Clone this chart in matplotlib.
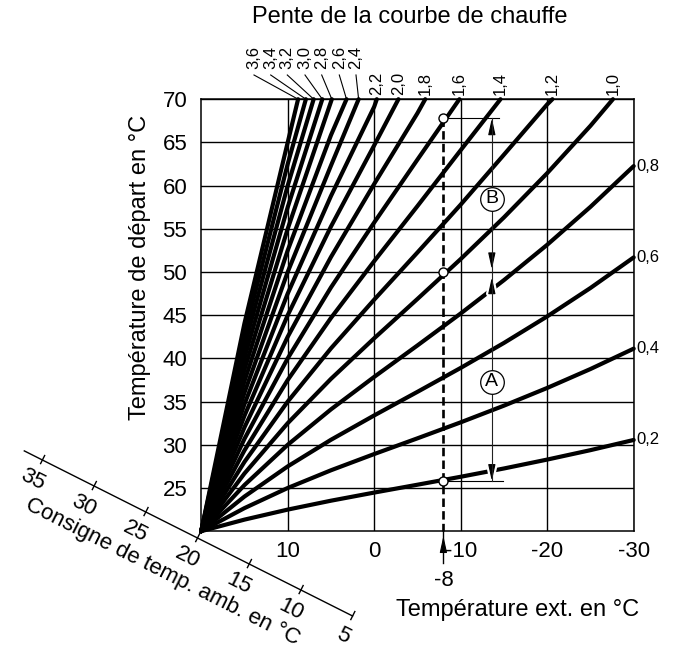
import matplotlib
matplotlib.use("Agg")
import matplotlib.pyplot as plt
from matplotlib import patheffects as pe
from matplotlib.lines import Line2D

plt.rcParams['font.family'] = ['Liberation Sans', 'DejaVu Sans']

# ---------------- data ----------------
t_out_full = [20, 15, 10, 5, 0, -5, -10, -15, -20, -25, -30]

flow_02 = [20, 21.34, 22.50, 23.53, 24.47, 25.38, 26.30, 27.26, 28.29, 29.38, 30.56]
flow_04 = [20, 22.67, 25.00, 27.05, 28.93, 30.75, 32.60, 34.53, 36.58, 38.77, 41.13]
flow_06 = [20, 24.01, 27.50, 30.58, 33.40, 36.13, 38.90, 41.79, 44.86, 48.15, 51.69]
flow_08 = [20, 25.34, 30.00, 34.10, 37.86, 41.50, 45.20, 49.06, 53.15, 57.54, 62.26]

out_10 = [20, 15, 10, 5, 0, -5, -10, -15, -20, -25, -27.6]
flow_10 = [20, 26.68, 32.50, 37.63, 42.33, 46.88, 51.50, 56.32, 61.44, 66.92, 70]
out_12 = [20, 15, 10, 5, 0, -5, -10, -15, -20, -20.6]
flow_12 = [20, 28.02, 35.00, 41.16, 46.80, 52.26, 57.80, 63.58, 69.40, 70]
out_14 = [20, 15, 10, 5, 0, -5, -10, -14.6]
flow_14 = [20, 29.35, 37.50, 44.68, 51.26, 57.63, 64.10, 70]
out_16 = [20, 15, 10, 5, 0, -5, -9.85]
flow_16 = [20, 30.69, 40.00, 48.21, 55.73, 63.01, 70]
out_18 = [20, 15, 10, 5, 0, -5, -5.9]
flow_18 = [20, 32.02, 42.50, 51.73, 60.19, 68.38, 70]
out_20 = [20, 15, 10, 5, 0, -2.8]
flow_20 = [20, 33.36, 45.00, 55.26, 64.66, 70]
out_22 = [20, 15, 10, 5, 0, -0.3]
flow_22 = [20, 34.70, 47.50, 58.79, 69.13, 70]
out_24 = [20, 15, 10, 5, 1.8]
flow_24 = [20, 36.03, 50.00, 62.31, 70]
out_26 = [20, 15, 10, 5, 3.2]
flow_26 = [20, 37.37, 52.50, 65.84, 70]
out_28 = [20, 15, 10, 4.9]
flow_28 = [20, 38.70, 55.00, 70]
out_30 = [20, 15, 10, 6.0]
flow_30 = [20, 40.04, 57.50, 70]
out_32 = [20, 15, 10, 7.0]
flow_32 = [20, 41.38, 60.00, 70]
out_34 = [20, 15, 10, 7.9]
flow_34 = [20, 42.71, 62.50, 70]
out_36 = [20, 15, 10, 8.8]
flow_36 = [20, 44.05, 65.00, 70]

right_labels = ["0,2", "0,4", "0,6", "0,8"]
top_labels = ["1,0", "1,2", "1,4", "1,6", "1,8", "2,0", "2,2"]
packed_labels = ["2,4", "2,6", "2,8", "3,0", "3,2", "3,4", "3,6"]

x_ticks = [10, 0, -10, -20, -30]
y_ticks = [25, 30, 35, 40, 45, 50, 55, 60, 65, 70]
room_ticks = [35, 30, 25, 20, 15, 10, 5]

example_out = -8
example_points = [67.8, 50.0, 25.8]   # flow temps marked on the -8 line

# ---------------- layout ----------------
W, H = 673, 654
fig = plt.figure(figsize=(W / 100, H / 100), dpi=100)
ax = fig.add_axes([201.2 / W, 1 - 531.2 / H, 432.5 / W, 432.0 / H])
ax.set_xlim(20, -30)
ax.set_ylim(20, 70)
ax.set_xticks(x_ticks)
ax.set_yticks(y_ticks)
ax.set_xticklabels([str(v) for v in x_ticks])
ax.set_yticklabels([str(v) for v in y_ticks])
ax.tick_params(length=0, labelsize=16, pad=7)
ax.tick_params(axis='y', pad=10)
ax.grid(True, color='black', lw=1.0, zorder=1)
ax.set_axisbelow(True)
for s in ax.spines.values():
    s.set_linewidth(1.1)
    s.set_zorder(2)


def fp(x, y):
    return (x / W, 1 - y / H)


def data_px(x, y):
    dx, dy = ax.transData.transform((x, y))
    return dx, H - dy


# curves
full = [flow_02, flow_04, flow_06, flow_08]
for fl in full:
    ax.plot(t_out_full, fl, color='black', lw=3.0, solid_capstyle='round',
            solid_joinstyle='round', clip_on=False, zorder=3)
steep = [(out_10, flow_10), (out_12, flow_12), (out_14, flow_14), (out_16, flow_16),
         (out_18, flow_18), (out_20, flow_20), (out_22, flow_22), (out_24, flow_24),
         (out_26, flow_26), (out_28, flow_28), (out_30, flow_30), (out_32, flow_32),
         (out_34, flow_34), (out_36, flow_36)]
for o, fl in steep:
    ax.plot(o, fl, color='black', lw=3.0, solid_capstyle='round',
            solid_joinstyle='round', clip_on=False, zorder=3)

# right labels
for lab, fl in zip(right_labels, full):
    ax.annotate(lab, xy=(t_out_full[-1], fl[-1]), xytext=(2, 0),
                textcoords='offset points', ha='left', va='center', fontsize=12,
                annotation_clip=False)

# top labels directly above the curve ends
for lab, (o, fl) in zip(top_labels, steep[:7]):
    ax.annotate(lab, xy=(o[-1], 70), xytext=(0, 3), textcoords='offset points',
                ha='center', va='bottom', rotation=90, fontsize=12,
                annotation_clip=False)

# packed labels with leader lines
packed_x = [356, 339.3, 321.7, 305, 287.3, 270.7, 254]
for lab, (o, fl), lx in zip(packed_labels, steep[7:], packed_x):
    ex, ey = data_px(o[-1], 70)
    fig.text(*fp(lx, 69), lab, rotation=90, ha='center', va='bottom', fontsize=12)
    fig.add_artist(Line2D([lx / W, ex / W], [1 - 75 / H, 1 - ey / H],
                          transform=fig.transFigure, color='black', lw=0.8))

# example at -8
ax.plot([example_out, example_out], [example_points[0], 20], color='black', lw=1.9,
        dashes=(3.2, 1.6), zorder=4, clip_on=False)
ax.plot([example_out] * 3, example_points, 'o', ms=6.5, mfc='white', mec='black',
        mew=1.0, zorder=6)

xa = -13.6
ax.plot([example_out, -14.4], [example_points[0]] * 2, color='black', lw=0.8, zorder=4)
ax.plot([example_out, -14.9], [example_points[2]] * 2, color='black', lw=0.8, zorder=4)
ax.plot([xa, xa], [example_points[0], example_points[2]], color='#222222', lw=0.8, zorder=4)


def head(tip, direction):
    ann = ax.annotate('', xy=(xa, tip), xytext=(xa, tip + direction * 1.6),
                      arrowprops=dict(arrowstyle='-|>,head_length=1.0,head_width=0.22',
                                      color='black', lw=0.8, shrinkA=0, shrinkB=0,
                                      mutation_scale=10))
    ann.arrow_patch.set_path_effects([pe.withStroke(linewidth=4, foreground='white')])
    ann.arrow_patch.set_zorder(5)


head(example_points[0], -1)
head(50.3, 1)
head(49.4, -1)
head(example_points[2], 1)

for letter, yv in (("B", 58.5), ("A", 37.3)):
    ax.plot([xa], [yv], 'o', ms=17, mfc='white', mec='black', mew=0.9, zorder=6)
    ax.text(xa, yv, letter, ha='center', va='center', fontsize=14, zorder=7)

# arrow below axis at -8
px8, _ = data_px(example_out, 20)
fig.add_artist(Line2D([px8 / W] * 2, [1 - 531 / H, 1 - 563 / H],
                      transform=fig.transFigure, color='black', lw=1.0))
fig.add_artist(plt.Annotation('', xy=fp(px8, 536), xytext=fp(px8, 552),
                              xycoords='figure fraction', textcoords='figure fraction',
                              arrowprops=dict(arrowstyle='-|>,head_length=1.0,head_width=0.22',
                                              color='black', lw=0.8, shrinkA=0, shrinkB=0,
                                              mutation_scale=10)))
fig.text(*fp(px8, 581), "-8", ha='center', va='center', fontsize=16)

# room temperature oblique axis
p20 = (197.5, 538.0)
step = (51.7, 26.0)
start = (p20[0] - 3.35 * step[0], p20[1] - 3.35 * step[1])
end = (p20[0] + 3.0 * step[0], p20[1] + 3.0 * step[1])
fig.add_artist(Line2D([start[0] / W, end[0] / W], [1 - start[1] / H, 1 - end[1] / H],
                      transform=fig.transFigure, color='black', lw=1.0))
nx, ny = 0.449, -0.893
for rt in room_ticks:
    k = (20 - rt) / 5.0
    tx, ty = p20[0] + k * step[0], p20[1] + k * step[1]
    fig.add_artist(Line2D([(tx - 4 * nx) / W, (tx + 5 * nx) / W],
                          [1 - (ty - 4 * ny) / H, 1 - (ty + 5 * ny) / H],
                          transform=fig.transFigure, color='black', lw=1.0))
    fig.text(*fp(tx - 10, ty + 20), str(rt), rotation=-26.7, rotation_mode='anchor',
             ha='center', va='center', fontsize=16)
fig.text(*fp(163, 572), "Consigne de temp. amb. en °C", rotation=-26.7,
         rotation_mode='anchor', ha='center', va='center', fontsize=16)

# titles
fig.text(*fp(410, 17), "Pente de la courbe de chauffe", ha='center', va='center', fontsize=17)
fig.text(*fp(140, 267), "Température de départ en °C", ha='center', va='center',
         rotation=90, fontsize=17)
fig.text(*fp(518, 610), "Température ext. en °C", ha='center', va='center', fontsize=17)

fig.savefig("out.png", dpi=100)
